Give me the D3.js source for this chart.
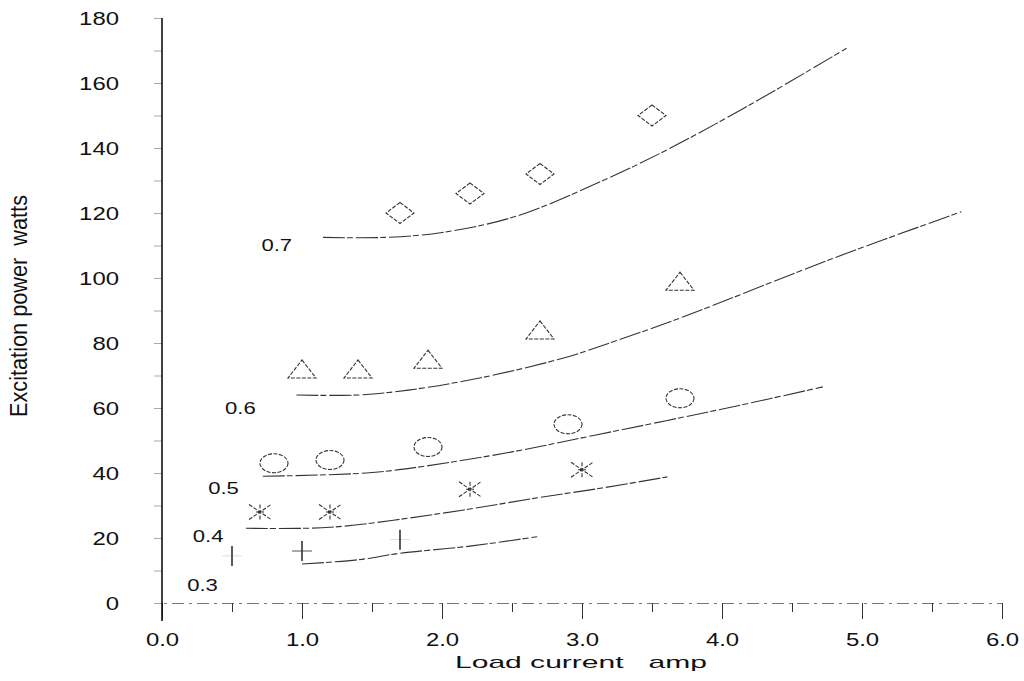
<!DOCTYPE html>
<html>
<head>
<meta charset="utf-8">
<script src="https://cdnjs.cloudflare.com/ajax/libs/d3/7.8.5/d3.min.js"></script>
<style>
  body { margin: 0; background: #fff; }
  svg text { font-family: "Liberation Sans", Arial, sans-serif; fill: #111; }
</style>
</head>
<body>
<svg width="1024" height="681"></svg>
<script>
// power factor of each series
var pfLabels = ["0.3", "0.4", "0.5", "0.6", "0.7"];

// measured points (load current amp, excitation power watts)
var markerLoad = [
    [0.5, 1.0, 1.7],
    [0.7, 1.2, 2.2, 3.0],
    [0.8, 1.2, 1.9, 2.9, 3.7],
    [1.0, 1.4, 1.9, 2.7, 3.7],
    [1.7, 2.2, 2.7, 3.5]
];
var markerPower = [
    [14.5, 16, 19.5],
    [28, 28, 35, 41],
    [43, 44, 48, 55, 63],
    [72, 72, 75, 84, 99],
    [120, 126, 132, 150]
];

// calculated curves
var curveLoad = [
    [1.0, 1.4, 1.7, 2.2, 2.68],
    [0.6, 1.2, 2.0, 2.7, 3.13, 3.61],
    [0.72, 1.46, 1.86, 2.5, 3.1, 4.08, 4.72],
    [0.96, 1.4, 1.76, 2.3, 2.87, 3.13, 3.72, 4.79, 5.71],
    [1.15, 1.6, 2.0, 2.53, 3.15, 3.61, 4.22, 4.89]
];
var curvePower = [
    [12, 13.3, 15.3, 17.5, 20.4],
    [23, 23.3, 27.6, 32.5, 35.3, 38.8],
    [39, 40, 42, 46.5, 51.7, 60.4, 66.5],
    [64, 64, 65.5, 69.5, 75.4, 79, 88, 106, 120.4],
    [112.5, 112.5, 114, 119, 130, 139.5, 153.8, 170.7]
];

// where the power factor labels sit
var labelLoad = [0.18, 0.22, 0.33, 0.45, 0.71];
var labelPower = [5.5, 20.6, 35.4, 60, 110];

var yTicks = [0, 20, 40, 60, 80, 100, 120, 140, 160, 180];

var svg = d3.select("svg");

var x = d3.scaleLinear().domain([0, 6]).range([162, 1002]);
var y = d3.scaleLinear().domain([0, 180]).range([603, 18]);

var stretch = "scale(1.33,1)";

// x axis
var xAxis = svg.append("g")
    .attr("transform", "translate(0," + y(0) + ")")
    .call(d3.axisBottom(x).tickValues(d3.range(0, 6.01, 0.5))
        .tickSize(16).tickFormat(function(d) { return d % 1 === 0 ? d.toFixed(1) : ""; }));
xAxis.select(".domain").attr("stroke", "#777").attr("stroke-dasharray", "12 5 3 5");
xAxis.selectAll(".tick line")
    .attr("stroke", "#333")
    .attr("y2", function(d) { return d % 1 === 0 ? 16 : 9; });
xAxis.selectAll(".tick text")
    .attr("y", null).attr("dy", null)
    .attr("font-size", 18)
    .attr("transform", "translate(0,43) " + stretch);

// y axis ticks and labels
var yAxis = svg.append("g")
    .attr("transform", "translate(" + x(0) + ",0)")
    .call(d3.axisLeft(y).tickValues(d3.range(0, 181, 10)).tickSize(8)
        .tickFormat(function(d) { return yTicks.indexOf(d) >= 0 ? d : ""; }));
yAxis.select(".domain").remove();
yAxis.selectAll(".tick line").attr("stroke", "#aaa");
yAxis.selectAll(".tick text")
    .attr("x", null).attr("dy", "0.36em")
    .attr("font-size", 18)
    .attr("transform", "translate(-43,0) " + stretch);

// heavy vertical axis line
svg.append("line")
    .attr("x1", x(0)).attr("x2", x(0))
    .attr("y1", y(180)).attr("y2", y(0) + 18)
    .attr("stroke", "#111").attr("stroke-width", 1.6);

// titles
svg.append("text")
    .attr("x", 581).attr("y", 668)
    .attr("text-anchor", "middle")
    .attr("font-size", 17)
    .attr("textLength", 252).attr("lengthAdjust", "spacingAndGlyphs")
    .attr("xml:space", "preserve")
    .text("Load current   amp");

svg.append("text")
    .attr("transform", "translate(27,306) rotate(-90)")
    .attr("text-anchor", "middle")
    .attr("font-size", 23)
    .attr("textLength", 222).attr("lengthAdjust", "spacingAndGlyphs")
    .attr("xml:space", "preserve")
    .text("Excitation power  watts");

// curves
var line = d3.line()
    .x(function(d) { return x(d[0]); })
    .y(function(d) { return y(d[1]); })
    .curve(d3.curveCatmullRom.alpha(0.5));

pfLabels.forEach(function(pf, i) {
    var pts = curveLoad[i].map(function(v, j) { return [v, curvePower[i][j]]; });
    svg.append("path")
        .attr("d", line(pts))
        .attr("fill", "none")
        .attr("stroke", "#333")
        .attr("stroke-width", 1.1)
        .attr("stroke-dasharray", "22 2 6 3");

    svg.append("text")
        .attr("x", 0).attr("y", 0)
        .attr("dy", "0.36em")
        .attr("font-size", 16)
        .attr("transform", "translate(" + x(labelLoad[i]) + "," + y(labelPower[i]) + ") scale(1.38,1)")
        .text(pf);
});

// marker shapes, one per series
var shapes = [
    "M0,-10L0,10",
    "M0,-7.5L0,7.5M-11,-7.5L11,7.5M-11,7.5L11,-7.5M-4,0L4,0",
    null,
    "M0,-9L14,9L-14,9Z",
    "M0,-10.5L14,0L0,10.5L-14,0Z"
];

pfLabels.forEach(function(pf, i) {
    var pts = markerLoad[i].map(function(v, j) { return [v, markerPower[i][j]]; });
    var g = svg.append("g").selectAll("g")
        .data(pts)
        .enter().append("g")
        .attr("transform", function(d) { return "translate(" + x(d[0]) + "," + y(d[1]) + ")"; });

    if (i === 2) {
        g.append("ellipse")
            .attr("rx", 14).attr("ry", 9.5)
            .attr("fill", "none").attr("stroke", "#333")
            .attr("stroke-width", 1.1).attr("stroke-dasharray", "4 1.5");
    } else {
        if (i === 0) {
            g.append("path").attr("d", "M-10,0L10,0")
                .attr("stroke", function(d, j) { return j === 1 ? "#555" : "#ddd"; })
                .attr("stroke-width", 1);
        }
        g.append("path")
            .attr("d", shapes[i])
            .attr("fill", "none").attr("stroke", "#333")
            .attr("stroke-width", i === 0 ? 1.6 : 1.1)
            .attr("stroke-dasharray", i === 0 ? null : "4 1.5");
    }
});
</script>
</body>
</html>
